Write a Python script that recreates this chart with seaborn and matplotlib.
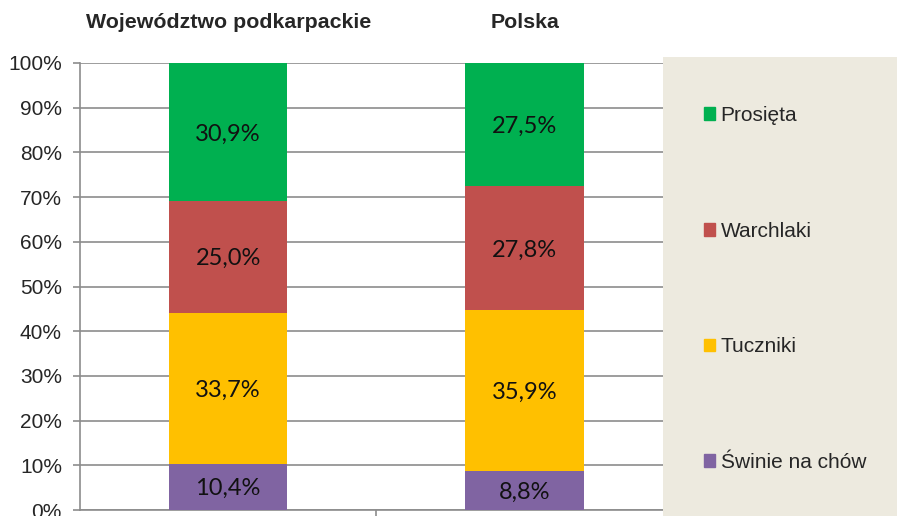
import matplotlib
matplotlib.use("Agg")
import matplotlib.pyplot as plt
import matplotlib.patches as mpatches
import seaborn as sns
import pandas as pd
import numpy as np

regions = ["Województwo podkarpackie", "Polska"]
series = ["Świnie na chów", "Tuczniki", "Warchlaki", "Prosięta"]
swinie = [10.4, 8.8]
tuczniki = [33.7, 35.9]
warchlaki = [25.0, 27.8]
prosieta = [30.9, 27.5]
colors = {"Świnie na chów": "#8064A2", "Tuczniki": "#FFC000",
          "Warchlaki": "#C0504D", "Prosięta": "#00B050"}

values = [swinie, tuczniki, warchlaki, prosieta]

sns.set_theme(style="white")
plt.rcParams['font.family'] = ['Liberation Sans', 'DejaVu Sans']

fig = plt.figure(figsize=(8.97, 5.16), dpi=100)
ax = fig.add_axes([80/897, 6/516, (663-80)/897, (510-63)/516])

# cumulative stacking
cum = np.cumsum(np.array(values), axis=0)
df_rows = []
for si, s in enumerate(series):
    for ri, r in enumerate(regions):
        df_rows.append({"region": r, "series": s, "value": values[si][ri],
                        "cum": cum[si][ri]})
df = pd.DataFrame(df_rows)

for si in reversed(range(len(series))):
    s = series[si]
    sub = df[df["series"] == s]
    sns.barplot(data=sub, x="region", y="cum", color=colors[s], width=0.4,
                ax=ax, saturation=1, order=regions, linewidth=0, zorder=3)

# labels
for si, s in enumerate(series):
    for ri in range(len(regions)):
        v = values[si][ri]
        c = cum[si][ri] - v / 2
        ax.text(ri, c - 0.4, f"{v:.1f}%".replace(".", ","), ha="center", va="center",
                fontsize=17, family=['Lato', 'DejaVu Sans'], color="#111111",
                zorder=5)

ax.set_xlim(-0.5, 1.467)
ax.set_ylim(0, 100)
ax.set_yticks(np.arange(0, 101, 10))
ax.set_yticklabels([f"{t}%" for t in range(0, 101, 10)], fontsize=15)
ax.set_xticks([0.5])
ax.set_xticklabels([""])
ax.set_xlabel("")
ax.set_ylabel("")
ax.grid(axis="y", color="#8C8C8C", linewidth=1.2, zorder=0)
ax.set_axisbelow(True)
for sp in ["top", "right"]:
    ax.spines[sp].set_visible(False)
for sp in ["left", "bottom"]:
    ax.spines[sp].set_color("#8C8C8C")
    ax.spines[sp].set_linewidth(1.2)
ax.tick_params(axis="both", which="major", direction="out", length=5,
               color="#8C8C8C", width=1.2, left=True, bottom=True, pad=8)

# titles
for ri, r in enumerate(regions):
    ax.text(ri, 1 + (63 - 22) / (510 - 63), r, transform=ax.get_xaxis_transform(),
            ha="center", va="center", fontsize=15.4, fontweight="bold")

# legend panel
panel = mpatches.Rectangle((663/897, 0), 1 - 663/897, (516 - 57)/516,
                           transform=fig.transFigure, facecolor="#EDEADF",
                           edgecolor="none", zorder=10)
fig.patches.append(panel)

handles = [mpatches.Patch(color=colors[s], label=s) for s in reversed(series)]
leg = fig.legend(handles=handles, loc="upper left",
                 bbox_to_anchor=(704/897, (516 - 106)/516), frameon=False,
                 fontsize=15, handlelength=0.55, handleheight=0.55,
                 handletextpad=0.25, labelspacing=4.64, borderpad=0,
                 borderaxespad=0)
leg.set_zorder(11)

fig.savefig("out.png", dpi=100)
